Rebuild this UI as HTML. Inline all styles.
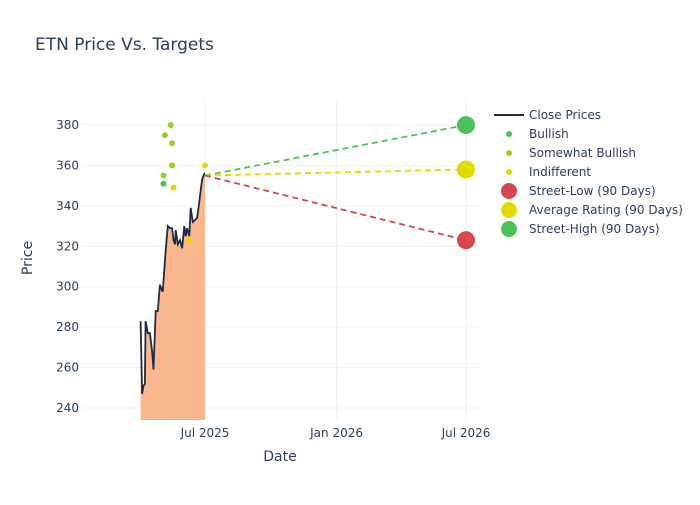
<!DOCTYPE html>
<html><head><meta charset="utf-8"><style>
body{margin:0;background:#fff;font-family:"Liberation Sans","DejaVu Sans",sans-serif;}
svg text{font-family:"DejaVu Sans","Liberation Sans",sans-serif;fill:#2a3f5f;}
</style></head><body>
<svg id="chart" width="700" height="500" xmlns="http://www.w3.org/2000/svg">
<text x="35" y="50" font-size="17">ETN Price Vs. Targets</text>
<g id="grid"></g>
<g id="plot"></g>
<g id="axes"></g>
<text x="280" y="461" font-size="14" text-anchor="middle">Date</text>
<text x="32" y="258" font-size="14" text-anchor="middle" transform="rotate(-90 32 258)">Price</text>
<g id="legend"></g>
</svg>
<script>
const priceDays=[-90,-88,-86,-84,-83,-80,-77,-74,-72,-69,-66,-63,-60,-59,-55,-52,-49,-46,-44,-42,-41,-38,-35,-32,-29,-27,-25,-22,-20,-17,-14,-11,-8,-7,-4,-1,0];
const priceVals=[283,247,251,252,283,277,277,268,259,288,288,301,298,298,318,330,329,329,323,321,328,321,323,319,330,325,329,325,339,332,333,334,342,345,353,356,356];
const bullishDays=[-58];
const bullishVals=[351];
const swBullishDays=[-48,-56,-46,-46,-58];
const swBullishVals=[380,375,371,360,355];
const indiffDays=[-44,-22,0];
const indiffVals=[349,323,360];
const targetDay=365;
const targetLow=323, targetAvg=358, targetHigh=380;
const lastClose=355;
const yTicks=[240,260,280,300,320,340,360,380];
const xTickDays=[0,184,365];
const xTickLabels=["Jul 2025","Jan 2026","Jul 2026"];

const NS="http://www.w3.org/2000/svg";
const X0=82,X1=480,Y0=100,Y1=420;
const x=d=>205+d*0.7151;
const y=v=>408-(v-240)*2.0214;
function mk(tag,attrs,parent){const e=document.createElementNS(NS,tag);for(const k in attrs)e.setAttribute(k,attrs[k]);parent.appendChild(e);return e;}
const grid=document.getElementById('grid'),plot=document.getElementById('plot'),axes=document.getElementById('axes'),leg=document.getElementById('legend');
yTicks.forEach(t=>{
 const l=mk('line',{x1:X0,x2:X1,y1:y(t),y2:y(t),stroke:'#eef0f5','stroke-width':1},grid);
 
 
 const tx=mk('text',{x:X0-3,y:y(t)+4,'font-size':12,'text-anchor':'end'},axes);tx.textContent=t;
 
 
});
xTickDays.forEach((d,i)=>{
 const l=mk('line',{x1:x(d),x2:x(d),y1:Y0,y2:Y1,stroke:'#eef0f5','stroke-width':1},grid);
 
 
 const tx=mk('text',{x:x(d),y:Y1+17,'font-size':12,'text-anchor':'middle'},axes);tx.textContent=xTickLabels[i];
 
 
});
let pts=priceDays.map((d,i)=>x(d).toFixed(1)+','+y(priceVals[i]).toFixed(1));
const area=mk('path',{d:'M'+x(priceDays[0])+','+Y1+' L'+pts.join(' L')+' L'+x(priceDays[priceDays.length-1])+','+Y1+' Z',fill:'#fbb88f'},plot);


const line=mk('polyline',{points:pts.join(' '),fill:'none',stroke:'#1f2a44','stroke-width':1.8},plot);


[[targetHigh,'#4cc35a','street-high-line'],[targetAvg,'#e0dc00','average-line'],[targetLow,'#d6474e','street-low-line']].forEach(([v,c,n])=>{
 const l=mk('line',{x1:x(0),y1:y(lastClose),x2:x(targetDay),y2:y(v),stroke:c,'stroke-width':1.8,'stroke-dasharray':'6,4'},plot);
 
 
});
function dots(days,vals,c,r,n){days.forEach((d,i)=>{const e=mk('circle',{cx:x(d),cy:y(vals[i]),r:r,fill:c},plot);
 
 });}
dots(bullishDays,bullishVals,'#4cc35a',3,'bullish-point');
dots(swBullishDays,swBullishVals,'#9acd32',3,'somewhat-bullish-point');
dots(indiffDays,indiffVals,'#e0dc00',3,'indifferent-point');
dots([targetDay],[targetLow],'#d6474e',9,'street-low-marker');
dots([targetDay],[targetAvg],'#e0dc00',9,'average-rating-marker');
dots([targetDay],[targetHigh],'#4cc35a',9,'street-high-marker');
const items=[['Close Prices','line','#1f2a44'],['Bullish',3,'#4cc35a'],['Somewhat Bullish',3,'#9acd32'],['Indifferent',3,'#e0dc00'],['Street-Low (90 Days)',8,'#d6474e'],['Average Rating (90 Days)',8,'#e0dc00'],['Street-High (90 Days)',8,'#4cc35a']];
items.forEach((it,i)=>{const cy=115+i*19;
 if(it[1]==='line'){const l=mk('line',{x1:494,x2:524,y1:cy,y2:cy,stroke:it[2],'stroke-width':2},leg);}
 else{const c=mk('circle',{cx:509,cy:cy,r:it[1],fill:it[2]},leg);}
 const t=mk('text',{x:529,y:cy+4,'font-size':12},leg);t.textContent=it[0];
 
 
});
</script>
</body></html>
